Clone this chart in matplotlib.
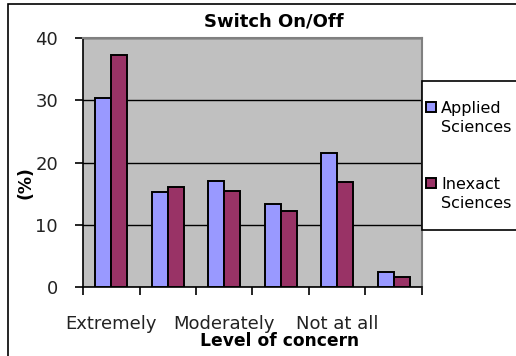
import numpy as np
import matplotlib
matplotlib.use("Agg")
import matplotlib.pyplot as plt
from matplotlib.patches import Rectangle

plt.rcParams['font.family'] = ['DejaVu Sans']

# survey answers per level of concern, percent of respondents
levels = ["Extremely", "", "Moderately", "", "Not at all", ""]
applied = [30.3, 15.3, 17.1, 13.4, 21.5, 2.4]
inexact = [37.3, 16.1, 15.5, 12.2, 16.9, 1.6]
series_names = ["Applied", "Inexact"]
series_suffix = "Sciences"

W, H = 516, 356
fig = plt.figure(figsize=(W / 100, H / 100), dpi=100)
fig.patch.set_facecolor("white")

# outer chart frame
fig.patches.append(Rectangle((8 / W, -0.1), 1.2, 1 - 4 / H + 0.1,
                             transform=fig.transFigure, fill=False,
                             edgecolor="black", linewidth=1.2))

ax = fig.add_axes([83 / W, 1 - 287 / H, (422 - 83) / W, (287 - 38) / H])
ax.set_facecolor("#c0c0c0")

x = np.arange(len(levels))
w = 0.283
b1 = ax.bar(x - w / 2, applied, w, color="#9999ff", edgecolor="black",
            linewidth=1.4, zorder=3)
b2 = ax.bar(x + w / 2, inexact, w, color="#993366", edgecolor="black",
            linewidth=1.4, zorder=3)

ax.set_xlim(-0.5, len(levels) - 0.5)
ax.set_ylim(0, 40)
ax.set_yticks([0, 10, 20, 30, 40])
ax.yaxis.grid(True, color="black", linewidth=1.0, zorder=1)
ax.set_axisbelow(True)

# tick marks sit on category boundaries, labels on the categories
ax.set_xticks(np.arange(-0.5, len(levels), 1.0))
ax.set_xticklabels([])
ax.set_xticks(x, minor=True)
ax.set_xticklabels(levels, minor=True)
ax.tick_params(axis="x", which="major", direction="out", length=6,
               width=1.2, color="black")
ax.tick_params(axis="x", which="minor", length=0, pad=20, labelsize=13,
               labelcolor="#222222")
ax.tick_params(axis="y", direction="out", length=6, width=1.2,
               labelsize=13, pad=12, labelcolor="#222222")

for side in ["left", "bottom"]:
    ax.spines[side].set_color("black")
    ax.spines[side].set_linewidth(1.2)
for side in ["top", "right"]:
    ax.spines[side].set_color("#808080")
    ax.spines[side].set_linewidth(1.5)

fig.text(274 / W, 1 - 21 / H, "Switch On/Off", ha="center", va="center",
         fontsize=13, fontweight="bold")
fig.text(280 / W, 1 - 341 / H, "Level of concern", ha="center",
         va="center", fontsize=12.3, fontweight="bold")
fig.text(26 / W, 1 - 183 / H, "(%)", ha="center", va="center",
         rotation=90, fontsize=12.3, fontweight="bold")

# legend box runs off the right edge
fig.patches.append(Rectangle((422 / W, 1 - 230 / H), 0.3, 149 / H,
                             transform=fig.transFigure, facecolor="white",
                             edgecolor="black", linewidth=1.2))
fig.legend(handles=[b1, b2], labels=series_names, loc="upper left",
           bbox_to_anchor=(426 / W, 1 - 101 / H), frameon=False,
           fontsize=11.5, handlelength=0.6, handleheight=0.6,
           handletextpad=0.35, borderpad=0, borderaxespad=0,
           labelspacing=3.8)
# second line of each legend label
for yc in (128, 203):
    fig.text(441 / W, 1 - yc / H, series_suffix, ha="left", va="center",
             fontsize=11.5)

fig.savefig("out.png", dpi=100)
